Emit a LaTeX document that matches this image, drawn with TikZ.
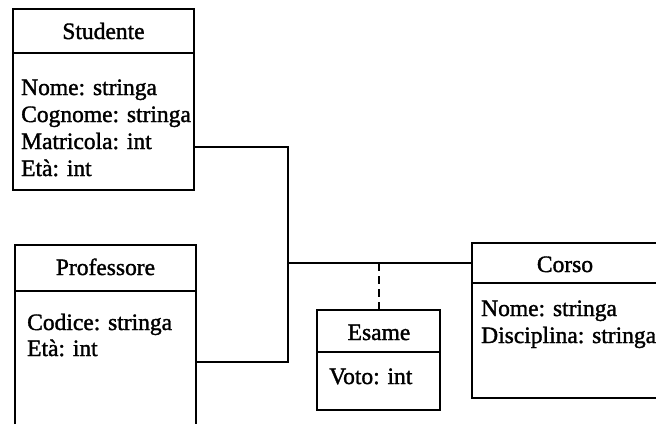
\documentclass[tikz,border=0pt]{standalone}
\usepackage{fontspec}
\newfontfamily\diafont{Liberation Serif}[FakeBold=1.5]
\begin{document}
\begin{tikzpicture}[x=1pt,y=-1pt,
  boxline/.style={line width=2.2pt, line join=miter},
  conn/.style={line width=2pt},
  dashconn/.style={line width=2pt, dash pattern=on 8pt off 5pt},
  title/.style={anchor=base, inner sep=0pt, font=\diafont\fontsize{23.5}{27}\selectfont},
  attr/.style={anchor=base west, inner sep=0pt, font=\diafont\fontsize{23.5}{27}\selectfont}]
\useasboundingbox (0,0) rectangle (656,424);
\fill[white] (0,0) rectangle (656,424);
% Studente
\coordinate (sNW) at (13,9);
\coordinate (sSE) at (194,190);
\draw[boxline] (sNW) rectangle (sSE);
\draw[boxline] (13,53) coordinate (sH1) -- (194,53) coordinate (sH2);
\node[title] (sT) at (103.5,39) {Studente};
\node[attr] (sA1) at (21,95) {Nome: stringa};
\node[attr] (sA2) at (21,122) {Cognome: stringa};
\node[attr] (sA3) at (21,149) {Matricola: int};
\node[attr] (sA4) at (21,176) {Età: int};
% Professore
\coordinate (pBL) at (15,424);
\coordinate (pTL) at (15,245);
\coordinate (pTR) at (196,245);
\coordinate (pBR) at (196,424);
\draw[boxline] (pBL) -- (pTL) -- (pTR) -- (pBR);
\draw[boxline] (15,291) coordinate (pH1) -- (196,291) coordinate (pH2);
\node[title] (pT) at (105.5,275) {Professore};
\node[attr] (pA1) at (27,330) {Codice: stringa};
\node[attr] (pA2) at (27,356) {Età: int};
% Corso
\coordinate (cTR) at (656,243);
\coordinate (cTL) at (472,243);
\coordinate (cBL) at (472,398);
\coordinate (cBR) at (656,398);
\draw[boxline] (cTR) -- (cTL) -- (cBL) -- (cBR);
\draw[boxline] (472,283) coordinate (cH1) -- (656,283) coordinate (cH2);
\node[title] (cT) at (565,272) {Corso};
\node[attr] (cA1) at (481,316) {Nome: stringa};
\node[attr] (cA2) at (481,343) {Disciplina: stringa};
% Esame
\coordinate (eNW) at (317,310);
\coordinate (eSE) at (440,410);
\draw[boxline] (eNW) rectangle (eSE);
\draw[boxline] (317,352) coordinate (eH1) -- (440,352) coordinate (eH2);
\node[title] (eT) at (379,340) {Esame};
\node[attr] (eA1) at (329,384) {Voto: int};
% connectors
\coordinate (sOut) at (194,147);
\coordinate (pOut) at (196,362);
\coordinate (cIn) at (472,263);
\coordinate (jTop) at (288,147);
\coordinate (jBot) at (288,362);
\coordinate (jMid) at (288,263);
\coordinate (dTop) at (379,263);
\coordinate (eTop) at (379,310);
\draw[conn] (sOut) -- (jTop) -- (jBot) -- (pOut);
\draw[conn] (jMid) -- (cIn);
\draw[dashconn] (dTop) -- (eTop);
\end{tikzpicture}
\end{document}
